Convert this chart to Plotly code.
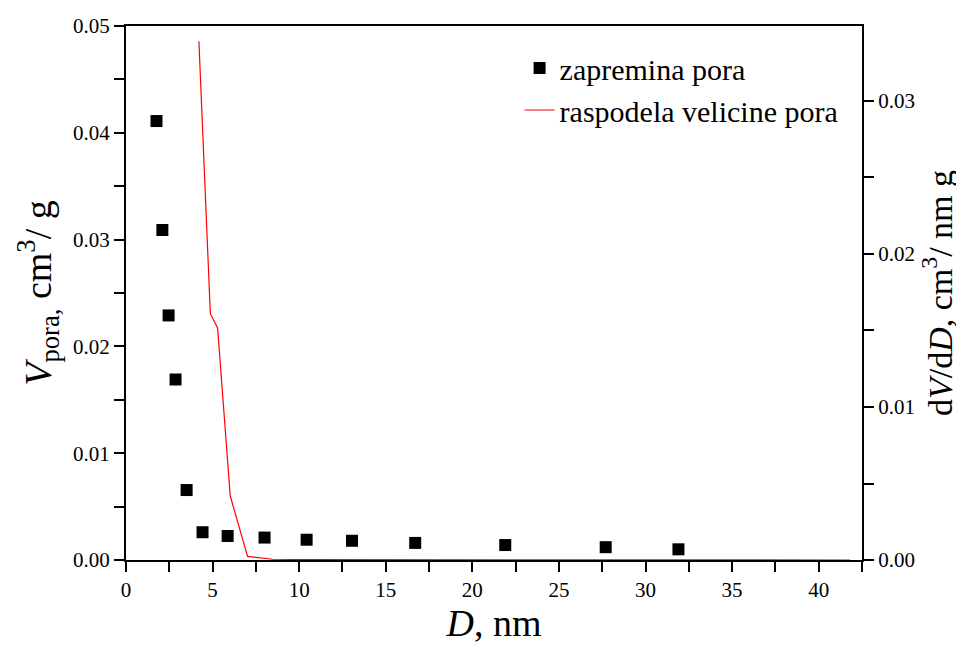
import plotly.graph_objects as go

# pore volume (squares, left axis)
d_vol = [1.76, 2.1, 2.46, 2.86, 3.5, 4.42, 5.87, 8.0, 10.43, 13.05, 16.7, 21.9, 27.7, 31.9]
v_pora = [0.0411, 0.0309, 0.0229, 0.0169, 0.00655, 0.0026, 0.00225, 0.0021,
          0.0019, 0.0018, 0.0016, 0.0014, 0.0012, 0.0010]

# pore size distribution (red line, right axis)
d_dist = [4.21, 4.87, 5.29, 6.02, 7.02, 8.47, 10.4, 13.0, 16.7, 21.9, 27.7, 31.9, 41.8]
dv_dd = [0.0339, 0.0161, 0.01517, 0.00418, 0.00024, 0.00005, 0.00003, 0.00002,
         0.00001, 0.00001, 0.000005, 0.000005, 0.0]

# tick positions (half steps carry an empty label -> minor ticks)
x_tickvals = [0, 2.5, 5, 7.5, 10, 12.5, 15, 17.5, 20, 22.5, 25, 27.5, 30, 32.5, 35, 37.5, 40, 42.5]
x_ticktext = ["0", "", "5", "", "10", "", "15", "", "20", "", "25", "", "30", "", "35", "", "40", ""]
y_tickvals = [0, 0.005, 0.01, 0.015, 0.02, 0.025, 0.03, 0.035, 0.04, 0.045, 0.05]
y_ticktext = ["0.00", "", "0.01", "", "0.02", "", "0.03", "", "0.04", "", "0.05"]
y2_tickvals = [0, 0.005, 0.01, 0.015, 0.02, 0.025, 0.03]
y2_ticktext = ["0.00", "", "0.01", "", "0.02", "", "0.03"]

FONT = "Times New Roman, Liberation Serif, serif"


def serif(s):
    # wrap text in a styled span so the serif face is applied
    return "<span style='font-family:Liberation Serif,serif'>" + s + "</span>" if s else ""


tick_style = dict(ticks="outside", ticklen=10, tickwidth=2, tickcolor="black")
tick_font = dict(family=FONT, size=21, color="black")

fig = go.Figure()
fig.add_trace(go.Scatter(x=d_vol, y=v_pora, mode="markers", name=serif("zapremina pora"),
                         marker=dict(symbol="square", size=12, color="black")))
fig.add_trace(go.Scatter(x=d_dist, y=dv_dd, mode="lines", name=serif("raspodela velicine pora"),
                         line=dict(color="red", width=1.2), yaxis="y2"))

fig.update_layout(
    width=964, height=646,
    margin=dict(l=118, r=110, t=18, b=94),
    plot_bgcolor="white", paper_bgcolor="white",
    font=dict(family=FONT, color="black", size=21),
    showlegend=True,
    legend=dict(x=0.975, y=0.97, xanchor="right", yanchor="top",
                bgcolor="rgba(0,0,0,0)", font=dict(family=FONT, size=30)),
    xaxis=dict(range=[0, 42.5], tickmode="array", tickvals=x_tickvals,
               ticktext=[serif(t) for t in x_ticktext],
               showgrid=False, zeroline=False,
               showline=True, linecolor="black", linewidth=2, mirror=True,
               tickfont=tick_font, automargin=False,
               title=dict(text="<i>D</i>, nm", font=dict(family=FONT, size=38), standoff=8),
               **tick_style),
    yaxis=dict(range=[0, 0.05], tickmode="array", tickvals=y_tickvals,
               ticktext=[serif(t) for t in y_ticktext],
               showgrid=False, zeroline=False,
               showline=True, linecolor="black", linewidth=2,
               tickfont=tick_font, automargin=False,
               title=dict(text="<i>V</i><sub>pora</sub><sub>,</sub> cm<sup>3</sup>/ g",
                          font=dict(family=FONT, size=38), standoff=10),
               **tick_style),
    yaxis2=dict(range=[0, 0.0349], tickmode="array", tickvals=y2_tickvals,
                ticktext=[serif(t) for t in y2_ticktext],
                overlaying="y", side="right",
                showgrid=False, zeroline=False,
                showline=True, linecolor="black", linewidth=2,
                tickfont=tick_font, automargin=False,
                title=dict(text="d<i>V</i>/d<i>D</i>, cm<sup>3</sup>/ nm g",
                           font=dict(family=FONT, size=34), standoff=14),
                **tick_style),
)

fig.write_html("out.html")
